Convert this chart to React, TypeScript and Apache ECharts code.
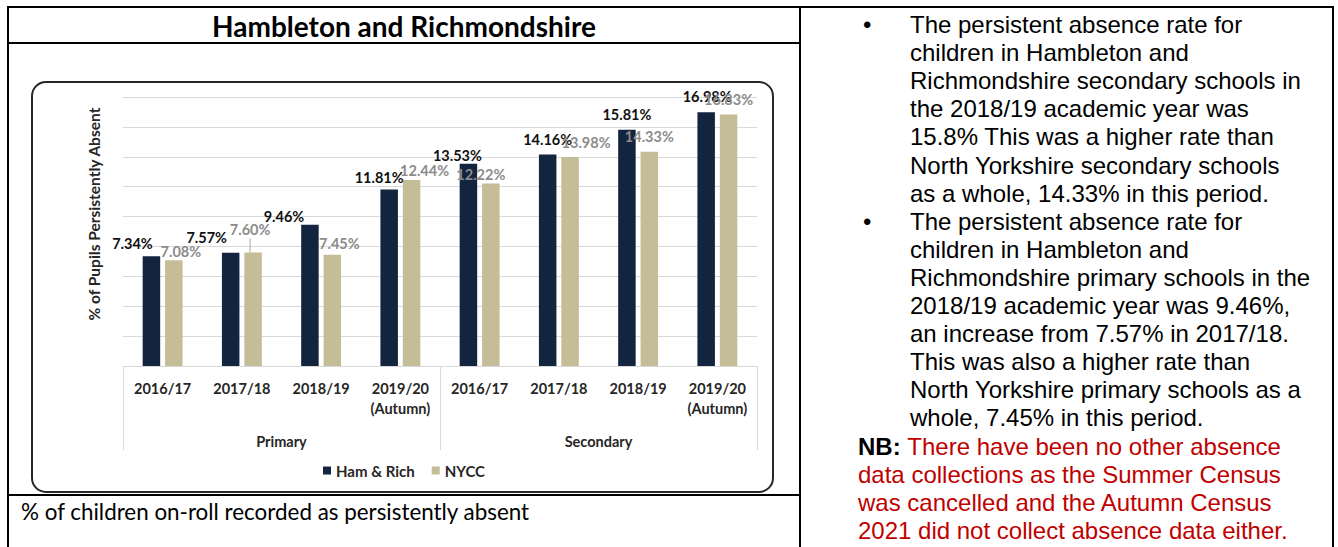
import React, { useEffect, useRef } from 'react';
import * as echarts from 'echarts';

// ---------- data ----------
const categories = ['2016/17', '2017/18', '2018/19', '2019/20\n(Autumn)', '2016/17', '2017/18', '2018/19', '2019/20\n(Autumn)'];
const phases = ['Primary', 'Secondary'];
const seriesNames = ['Ham & Rich', 'NYCC'];
const hamRich = [7.34, 7.57, 9.46, 11.81, 13.53, 14.16, 15.81, 16.98];
const nycc = [7.08, 7.60, 7.45, 12.44, 12.22, 13.98, 14.33, 16.83];
const yMin = 0;
const yMax = 18;
const yInterval = 2;

// label nudges (px) as placed in the original chart
const hamLabelShift = [[-19, -4], [-24, -6], [-26, 1], [-10, -3], [-11, 1], [0, -6], [0, -6], [1, -7]];
const nyccLabelShift = [[7, 0], [-3, -14], [7, -2], [13, -1], [-10, 0], [16, -6], [0, -6], [0, -6]];

const titleText = 'Hambleton and Richmondshire';
const yAxisName = '% of Pupils Persistently Absent';
const captionText = '% of children on-roll recorded as persistently absent';

const notesLines: { text: string; bullet?: boolean; nb?: boolean; indent: boolean }[] = [
  { text: 'The persistent absence rate for', bullet: true, indent: true },
  { text: 'children in Hambleton and', indent: true },
  { text: 'Richmondshire secondary schools in', indent: true },
  { text: 'the 2018/19 academic year was', indent: true },
  { text: '15.8% This was a higher rate than', indent: true },
  { text: 'North Yorkshire secondary schools', indent: true },
  { text: 'as a whole, 14.33% in this period.', indent: true },
  { text: 'The persistent absence rate for', bullet: true, indent: true },
  { text: 'children in Hambleton and', indent: true },
  { text: 'Richmondshire primary schools in the', indent: true },
  { text: '2018/19 academic year was 9.46%,', indent: true },
  { text: 'an increase from 7.57% in 2017/18.', indent: true },
  { text: 'This was also a higher rate than', indent: true },
  { text: 'North Yorkshire primary schools as a', indent: true },
  { text: 'whole, 7.45% in this period.', indent: true },
  { text: 'There have been no other absence', nb: true, indent: false },
  { text: 'data collections as the Summer Census', indent: false },
  { text: 'was cancelled and the Autumn Census', indent: false },
  { text: '2021 did not collect absence data either.', indent: false },
];

const FONT = 'Lato, "Noto Sans", sans-serif';
const NAVY = '#13243F';
const TAN = '#C4BD97';
const GRID = '#d9d9d9';

function Chart() {
  const ref = useRef<HTMLDivElement>(null);
  useEffect(() => {
    if (!ref.current) return;
    const chart = echarts.init(ref.current, undefined, { renderer: 'svg' });
    const pct = (p: any) => Number(p.value).toFixed(2) + '%';
    const labelBase = {
      show: true,
      position: 'top',
      distance: 0,
      formatter: pct,
      fontFamily: FONT,
      fontWeight: 'bold',
      fontSize: 14.5,
      lineHeight: 18,
    };
    chart.setOption({
      animation: false,
      backgroundColor: 'transparent',
      title: {
        text: titleText,
        left: 'center',
        top: 2,
        padding: 0,
        textStyle: { fontFamily: FONT, fontWeight: 'bold', fontSize: 28, lineHeight: 30, color: '#000' },
      },
      grid: { left: 114, right: 42, top: 88, bottom: 128, containLabel: false },
      legend: {
        data: seriesNames,
        left: 'center',
        top: 454,
        padding: 0,
        icon: 'rect',
        itemWidth: 8,
        itemHeight: 8,
        itemGap: 17,
        textStyle: { fontFamily: FONT, fontWeight: 'bold', fontSize: 15, color: '#262626' },
      },
      xAxis: [
        {
          type: 'category',
          data: categories,
          axisLine: { lineStyle: { color: GRID, width: 1 } },
          axisTick: { show: false },
          axisLabel: {
            interval: 0,
            margin: 12,
            fontFamily: FONT,
            fontWeight: 'bold',
            fontSize: 14.5,
            lineHeight: 20,
            color: '#262626',
          },
        },
        {
          type: 'category',
          data: phases,
          position: 'bottom',
          axisLine: { show: false },
          axisTick: { show: true, length: 84, lineStyle: { color: GRID, width: 1 } },
          axisLabel: {
            interval: 0,
            margin: 66,
            fontFamily: FONT,
            fontWeight: 'bold',
            fontSize: 14.5,
            lineHeight: 18,
            color: '#262626',
          },
          splitLine: { show: false },
        },
      ],
      yAxis: {
        type: 'value',
        min: yMin,
        max: yMax,
        interval: yInterval,
        axisLabel: { show: false },
        axisLine: { show: false },
        axisTick: { show: false },
        splitLine: { lineStyle: { color: GRID, width: 1 } },
      },
      graphic: [
        {
          type: 'rect',
          silent: true,
          z: -10,
          shape: { x: 23, y: 73, width: 741, height: 410, r: 14 },
          style: { fill: 'transparent', stroke: '#262626', lineWidth: 2 },
        },
        {
          type: 'text',
          silent: true,
          x: 84.5,
          y: 205,
          rotation: Math.PI / 2,
          style: {
            text: yAxisName,
            font: 'bold 15.5px ' + FONT,
            fill: '#262626',
            align: 'center',
            verticalAlign: 'middle',
          },
        },
      ],
      series: [
        {
          name: seriesNames[0],
          type: 'bar',
          xAxisIndex: 0,
          data: hamRich,
          barWidth: 17.5,
          barGap: '28%',
          itemStyle: { color: NAVY },
          label: { ...labelBase, color: '#111' },
          labelLayout: (p: any) => ({ dx: hamLabelShift[p.dataIndex][0], dy: hamLabelShift[p.dataIndex][1] }),
        },
        {
          name: seriesNames[1],
          type: 'bar',
          xAxisIndex: 0,
          data: nycc.map((v, i) =>
            i === 1 ? { value: v, labelLine: { show: true, lineStyle: { color: '#a6a6a6', width: 1 } } } : v
          ),
          barWidth: 17.5,
          barGap: '28%',
          itemStyle: { color: TAN },
          label: { ...labelBase, color: '#8c8c8c' },
          labelLine: { show: false },
          labelLayout: (p: any) => ({ dx: nyccLabelShift[p.dataIndex][0], dy: nyccLabelShift[p.dataIndex][1] }),
        },
      ],
    });
    return () => chart.dispose();
  }, []);
  return <div ref={ref} style={{ position: 'absolute', left: 9, top: 9, width: 790, height: 485 }} />;
}

const line = (l: number, t: number, w: number, h: number) => (
  <div style={{ position: 'absolute', left: l, top: t, width: w, height: h, background: '#000', zIndex: 5 }} />
);

export default function App() {
  const TEXT_TOP = 11;
  const LH = 28.1;
  return (
    <div style={{ position: 'absolute', left: 0, top: 0, width: 1338, height: 547, background: '#fff', overflow: 'hidden' }}>
      <Chart />
      {/* table borders */}
      {line(7, 6, 1327, 2)}
      {line(7, 6, 2, 541)}
      {line(799, 6, 2, 541)}
      {line(1332, 6, 2, 541)}
      {line(7, 42, 794, 2)}
      {line(7, 494, 794, 2)}
      {/* caption */}
      <div
        style={{
          position: 'absolute',
          left: 21,
          top: 499,
          fontFamily: FONT,
          fontSize: 22.4,
          lineHeight: '26px',
          color: '#000',
          whiteSpace: 'nowrap',
        }}
      >
        {captionText}
      </div>
      {/* notes */}
      {notesLines.map((ln, i) => (
        <React.Fragment key={i}>
          {ln.bullet && (
            <div
              style={{
                position: 'absolute',
                left: 863,
                top: TEXT_TOP + i * LH,
                fontFamily: '"Liberation Sans", Arial, sans-serif',
                fontSize: 24,
                lineHeight: LH + 'px',
                color: '#000',
              }}
            >
              •
            </div>
          )}
          <div
            style={{
              position: 'absolute',
              left: ln.indent ? 910 : 858,
              top: TEXT_TOP + i * LH,
              fontFamily: '"Liberation Sans", Arial, sans-serif',
              fontSize: 24,
              lineHeight: LH + 'px',
              color: ln.indent ? '#000' : '#C00000',
              whiteSpace: 'nowrap',
            }}
          >
            {ln.nb && <b style={{ color: '#000' }}>NB: </b>}
            {ln.text}
          </div>
        </React.Fragment>
      ))}
    </div>
  );
}
